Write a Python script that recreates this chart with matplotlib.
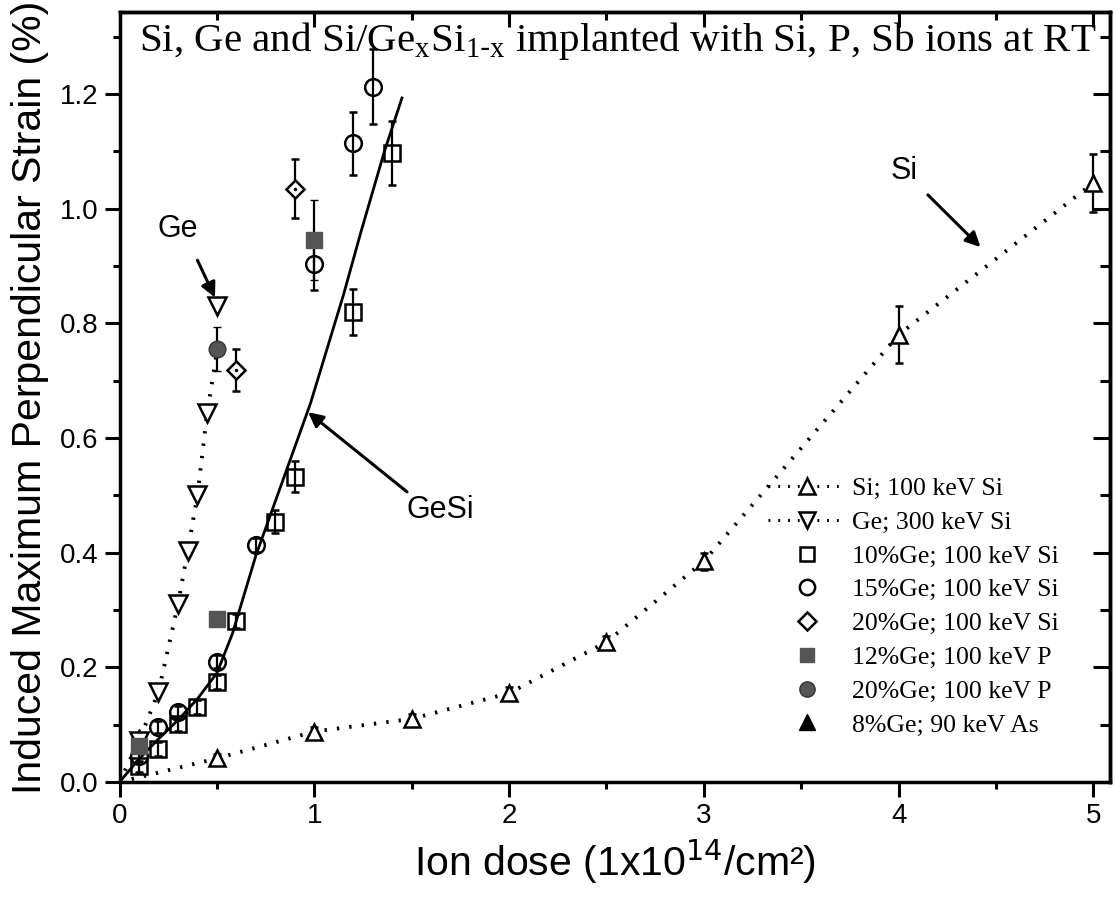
import matplotlib
matplotlib.use("Agg")
import matplotlib.pyplot as plt
from matplotlib.lines import Line2D
from matplotlib.ticker import MultipleLocator, FormatStrFormatter

# ---------------- data ----------------
si_x = [0.5, 1.0, 1.5, 2.0, 2.5, 3.0, 4.0, 5.0]
si_y = [0.041, 0.088, 0.11, 0.155, 0.244, 0.385, 0.78, 1.045]
si_err = [0.008, 0.008, 0.008, 0.01, 0.01, 0.015, 0.05, 0.05]
si_fit_x = [0.0, 0.5, 1.0, 1.5, 2.0, 2.5, 3.0, 4.0, 5.0]
si_fit_y = [0.0, 0.041, 0.088, 0.11, 0.155, 0.244, 0.385, 0.78, 1.045]

ge_x = [0.1, 0.2, 0.3, 0.35, 0.4, 0.45, 0.5]
ge_y = [0.072, 0.157, 0.31, 0.403, 0.50, 0.644, 0.83]
ge_fit_x = [0.0, 0.1, 0.2, 0.3, 0.35, 0.4, 0.45, 0.5]
ge_fit_y = [0.0, 0.072, 0.157, 0.31, 0.403, 0.50, 0.644, 0.75]

gesi10_x = [0.1, 0.2, 0.3, 0.4, 0.5, 0.6, 0.8, 0.9, 1.2, 1.4]
gesi10_y = [0.027, 0.057, 0.101, 0.131, 0.175, 0.281, 0.454, 0.532, 0.819, 1.097]
gesi10_err = [0.01, 0.012, 0.012, 0.012, 0.012, 0.012, 0.02, 0.027, 0.04, 0.055]

gesi15_x = [0.1, 0.2, 0.3, 0.5, 0.7, 1.0, 1.2, 1.3]
gesi15_y = [0.045, 0.096, 0.122, 0.21, 0.413, 0.903, 1.114, 1.213]
gesi15_err = [0.01, 0.01, 0.01, 0.012, 0.012, 0.045, 0.055, 0.065]

gesi20_x = [0.6, 0.9]
gesi20_y = [0.719, 1.035]
gesi20_err = [0.037, 0.052]

p12_x = [0.1, 0.5, 1.0]
p12_y = [0.062, 0.285, 0.945]
p12_err = [0.01, 0.01, 0.07]

p20_x = [0.5]
p20_y = [0.755]
p20_err = [0.038]

as8_x = [0.1]
as8_y = [0.078]

gesi_fit_x = [0.0, 0.1, 0.2, 0.3, 0.4, 0.5, 0.58, 0.70, 0.98, 1.15, 1.24, 1.36, 1.45]
gesi_fit_y = [0.0, 0.04, 0.075, 0.108, 0.145, 0.19, 0.259, 0.395, 0.66, 0.85, 0.96, 1.10, 1.193]

legend_labels = ["Si; 100 keV Si", "Ge; 300 keV Si", "10%Ge; 100 keV Si",
                 "15%Ge; 100 keV Si", "20%Ge; 100 keV Si", "12%Ge; 100 keV P",
                 "20%Ge; 100 keV P", "8%Ge; 90 keV As"]

# ---------------- figure ----------------
sans = ['Liberation Sans Narrow', 'Liberation Sans', 'DejaVu Sans']
serif = ['Liberation Serif', 'DejaVu Serif']

fig = plt.figure(figsize=(11.15, 9.08), dpi=100)
ax = fig.add_axes([0.1072, 0.1388, 0.8883, 0.8480])
ax.set_xlim(0, 5.085)
ax.set_ylim(0, 1.343)

dot = (0, (0.6, 2.6))
ms = 12
mew = 1.8
ekw = dict(ecolor='k', elinewidth=1.6, capsize=3, capthick=1.6)
fill_gray = '#555555'

# fit lines
ax.plot(si_fit_x, si_fit_y, color='k', lw=2.8, linestyle=dot, zorder=2)
ax.plot(ge_fit_x, ge_fit_y, color='k', lw=2.8, linestyle=dot, zorder=2)
ax.plot(gesi_fit_x, gesi_fit_y, color='k', lw=2.0, linestyle='-', zorder=2)

# data points
ax.errorbar(si_x, si_y, yerr=si_err, fmt='^', ms=ms, mfc='white', mec='k', mew=mew, zorder=3, **ekw)
ax.errorbar(ge_x, ge_y, fmt='v', ms=13, mfc='white', mec='k', mew=mew, zorder=3)
ax.errorbar(gesi10_x, gesi10_y, yerr=gesi10_err, fmt='s', ms=11, mfc='none', mec='k', mew=mew, zorder=3, **ekw)
ax.errorbar(gesi15_x, gesi15_y, yerr=gesi15_err, fmt='o', ms=12, mfc='none', mec='k', mew=mew, zorder=3, **ekw)
ax.errorbar(gesi20_x, gesi20_y, yerr=gesi20_err, fmt='D', ms=9, mfc='white', mec='k', mew=mew, zorder=3, **ekw)
ax.plot(gesi20_x, gesi20_y, '.', color='k', ms=3, zorder=4)
ax.errorbar(p12_x, p12_y, yerr=p12_err, fmt='s', ms=11, mfc=fill_gray, mec=fill_gray, mew=1, zorder=3, **ekw)
ax.errorbar(p20_x, p20_y, yerr=p20_err, fmt='o', ms=12, mfc=fill_gray, mec='#333333', mew=1, zorder=3, **ekw)
ax.plot(as8_x, as8_y, '^', ms=ms, color='k', zorder=3)

# ---------------- axes styling ----------------
for s in ax.spines.values():
    s.set_linewidth(2.5)
ax.xaxis.set_major_locator(MultipleLocator(1))
ax.xaxis.set_minor_locator(MultipleLocator(0.5))
ax.yaxis.set_major_locator(MultipleLocator(0.2))
ax.yaxis.set_minor_locator(MultipleLocator(0.1))
ax.yaxis.set_major_formatter(FormatStrFormatter('%.1f'))
ax.tick_params(axis='both', which='major', direction='out', length=11, width=2.2,
               labelsize=20, pad=4)
ax.tick_params(axis='both', which='minor', direction='out', length=5, width=2.2)
ax.tick_params(which='both', top=False, right=False)

axt = ax.secondary_xaxis('top')
axt.xaxis.set_major_locator(MultipleLocator(1))
axt.xaxis.set_minor_locator(MultipleLocator(0.5))
axt.tick_params(which='major', direction='in', length=11, width=2.2, labeltop=False)
axt.tick_params(which='minor', direction='in', length=6, width=2.2)
axt.spines['top'].set_linewidth(2.5)
axr = ax.secondary_yaxis('right')
axr.yaxis.set_major_locator(MultipleLocator(0.2))
axr.yaxis.set_minor_locator(MultipleLocator(0.1))
axr.tick_params(which='major', direction='in', length=12, width=2.2, labelright=False)
axr.tick_params(which='minor', direction='in', length=7, width=2.2)
axr.spines['right'].set_linewidth(2.5)

for lab in ax.get_xticklabels() + ax.get_yticklabels():
    lab.set_family(sans)

ax.set_xlabel(r'Ion dose (1x10$^{14}$/cm²)', fontsize=29.5, family=sans, labelpad=6)
ax.set_ylabel('Induced Maximum Perpendicular Strain (%)', fontsize=29.5, family=sans, labelpad=8)

# title inside
ax.text(2.56, 1.292, r'Si, Ge and Si/Ge$_\mathregular{x}$Si$_\mathregular{1\text{-}x}$ implanted with Si, P, Sb ions at RT',
        ha='center', va='center', fontsize=29.5, family=serif)

# annotations
arr = dict(arrowstyle='-|>', lw=2.2, color='k', mutation_scale=22, shrinkA=0, shrinkB=0)
ax.annotate('', xy=(0.49, 0.845), xytext=(0.40, 0.91), arrowprops=arr)
ax.text(0.30, 0.965, 'Ge', fontsize=22, family=sans, ha='center', va='center')
ax.annotate('', xy=(0.968, 0.645), xytext=(1.476, 0.506), arrowprops=arr)
ax.text(1.645, 0.474, 'GeSi', fontsize=22, family=sans, ha='center', va='center')
ax.annotate('', xy=(4.42, 0.933), xytext=(4.15, 1.024), arrowprops=arr)
ax.text(4.03, 1.066, 'Si', fontsize=22, family=sans, ha='center', va='center')

# legend
handles = [
    Line2D([], [], color='k', lw=2.2, linestyle=dot, marker='^', ms=11, mfc='white', mec='k', mew=mew),
    Line2D([], [], color='k', lw=2.2, linestyle=dot, marker='v', ms=11, mfc='white', mec='k', mew=mew),
    Line2D([], [], linestyle='none', marker='s', ms=10, mfc='white', mec='k', mew=mew),
    Line2D([], [], linestyle='none', marker='o', ms=11, mfc='white', mec='k', mew=mew),
    Line2D([], [], linestyle='none', marker='D', ms=9, mfc='white', mec='k', mew=mew),
    Line2D([], [], linestyle='none', marker='s', ms=10, mfc=fill_gray, mec=fill_gray),
    Line2D([], [], linestyle='none', marker='o', ms=11, mfc=fill_gray, mec='#333333'),
    Line2D([], [], linestyle='none', marker='^', ms=11, color='k'),
]
leg = ax.legend(handles, legend_labels, loc='upper left', bbox_to_anchor=(0.655, 0.396),
                frameon=False, prop={'family': serif, 'size': 18.5}, handlelength=3.0,
                handletextpad=0.25, labelspacing=0.42, borderpad=0, borderaxespad=0)

fig.savefig('out.png', dpi=100)
